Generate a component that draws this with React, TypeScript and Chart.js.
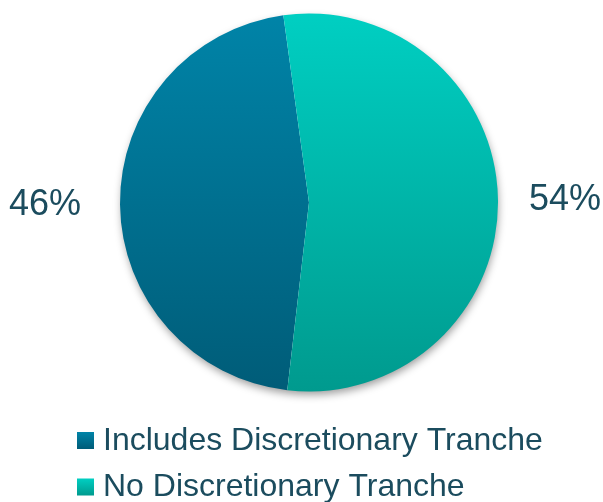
import React, { useEffect, useRef } from "react";
import { Chart, registerables } from "chart.js";

Chart.register(...registerables);

const categories = ["Includes Discretionary Tranche", "No Discretionary Tranche"];
const values = [46, 54];
const topColors = ["#0084a8", "#00cfc2"];
const bottomColors = ["#005c78", "#009a8e"];
const textColor = "#1b4c5e";

const shadowPlugin = {
  id: "pieShadow",
  beforeDatasetsDraw(chart: any) {
    const meta = chart.getDatasetMeta(0);
    const arc = meta.data[0];
    if (!arc) return;
    const { x, y, outerRadius } = arc.getProps(["x", "y", "outerRadius"], true);
    const ctx = chart.ctx;
    ctx.save();
    ctx.shadowColor = "rgba(0,0,0,0.4)";
    ctx.shadowBlur = 9;
    ctx.shadowOffsetX = 1;
    ctx.shadowOffsetY = 4;
    ctx.fillStyle = "#ffffff";
    ctx.beginPath();
    ctx.arc(x, y, outerRadius - 1, 0, Math.PI * 2);
    ctx.fill();
    ctx.restore();
  },
};

const labelPlugin = {
  id: "outerLabels",
  afterDatasetsDraw(chart: any) {
    const ctx = chart.ctx;
    const meta = chart.getDatasetMeta(0);
    const ds = chart.data.datasets[0];
    ctx.save();
    ctx.font = "36px 'Liberation Sans', Arial, sans-serif";
    ctx.fillStyle = textColor;
    ctx.textBaseline = "middle";
    meta.data.forEach((arc: any, i: number) => {
      const { x, y, startAngle, endAngle, outerRadius } = arc.getProps(
        ["x", "y", "startAngle", "endAngle", "outerRadius"],
        true
      );
      const mid = (startAngle + endAngle) / 2;
      const cx = Math.cos(mid);
      const sy = Math.sin(mid);
      const gap = cx < 0 ? 39 : 31;
      const lx = x + cx * (outerRadius + gap);
      const ly = y + sy * (outerRadius + gap + 40);
      ctx.textAlign = cx < 0 ? "right" : "left";
      ctx.fillText(ds.data[i] + "%", lx, ly);
    });
    ctx.restore();
  },
};

const legendPlugin = {
  id: "customLegend",
  afterDraw(chart: any) {
    const ctx = chart.ctx;
    const labels = chart.data.labels as string[];
    const boxX = 77;
    const boxSize = 17;
    const firstBoxTop = 432;
    const rowGap = 46.5;
    ctx.save();
    ctx.font = "32px 'Liberation Sans', Arial, sans-serif";
    ctx.textBaseline = "alphabetic";
    ctx.textAlign = "left";
    labels.forEach((label, i) => {
      const top = firstBoxTop + i * rowGap;
      const g = ctx.createLinearGradient(0, top, 0, top + boxSize);
      g.addColorStop(0, topColors[i]);
      g.addColorStop(1, bottomColors[i]);
      ctx.fillStyle = g;
      ctx.fillRect(boxX, top, boxSize, boxSize);
      ctx.fillStyle = textColor;
      ctx.fillText(label, 103, top + 17.5);
    });
    ctx.restore();
  },
};

export default function App() {
  const ref = useRef<HTMLCanvasElement | null>(null);
  useEffect(() => {
    if (!ref.current) return;
    const chart = new Chart(ref.current, {
      type: "pie",
      data: {
        labels: categories,
        datasets: [
          {
            data: values,
            borderWidth: 0,
            backgroundColor: (c: any) => {
              const area = c.chart.chartArea;
              const i = c.dataIndex ?? 0;
              if (!area) return topColors[i];
              const g = c.chart.ctx.createLinearGradient(0, area.top, 0, area.bottom);
              g.addColorStop(0, topColors[i]);
              g.addColorStop(1, bottomColors[i]);
              return g;
            },
          },
        ],
      },
      options: {
        animation: false,
        responsive: false,
        rotation: 186.6,
        layout: { padding: { top: 13, bottom: 110, left: 120, right: 105 } },
        plugins: {
          legend: { display: false },
          tooltip: { enabled: false },
        },
      },
      plugins: [shadowPlugin, labelPlugin, legendPlugin],
    });
    return () => chart.destroy();
  }, []);
  return (
    <div style={{ position: "absolute", left: 0, top: 0, width: 603, height: 502, background: "#ffffff" }}>
      <canvas ref={ref} width={603} height={502} />
    </div>
  );
}
